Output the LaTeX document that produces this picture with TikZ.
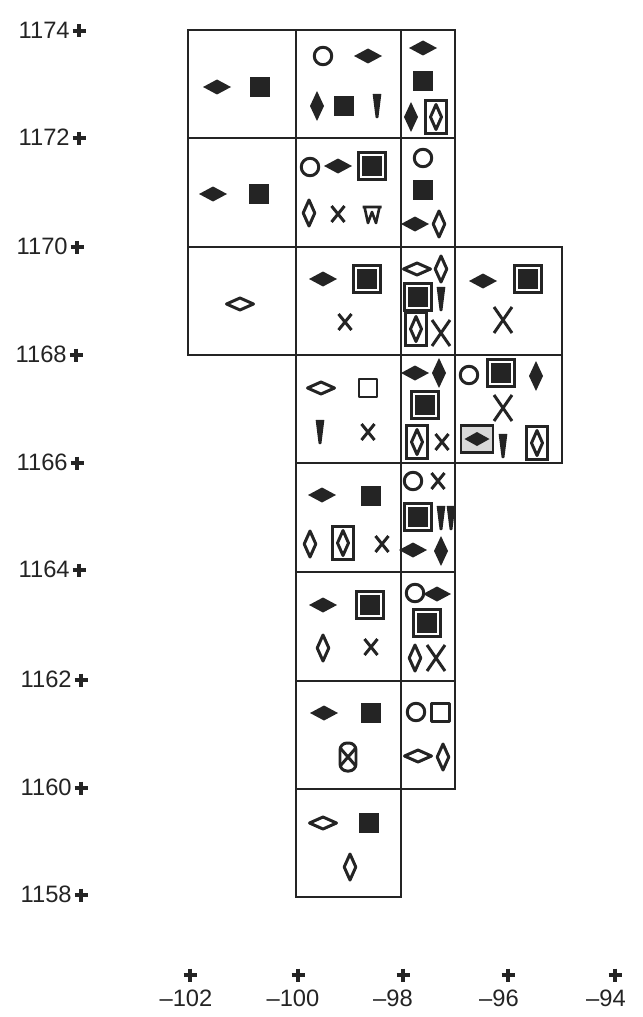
\documentclass[tikz,border=0pt]{standalone}
\usepackage{fontspec}
\setmainfont{Liberation Sans}
\definecolor{ink}{RGB}{36,36,36}
\tikzset{
  cell/.style={draw=ink, line width=1.5pt},
  sym/.style={draw=ink, line width=1.7pt, line join=round},
  tick/.style={draw=ink, line width=2pt},
  lab/.style={inner sep=0pt, text=ink, font=\fontsize{13.5}{16}\selectfont},
  fdh/.pic={\fill[ink] (-14,0) -- (0,-7.5) -- (14,0) -- (0,7.5) -- cycle;},
  odh/.pic={\draw[sym] (-13.5,0) -- (0,-6) -- (13.5,0) -- (0,6) -- cycle;},
  fdv/.pic={\fill[ink] (0,-15) -- (7,0) -- (0,15) -- (-7,0) -- cycle;},
  odv/.pic={\draw[sym] (0,-13) -- (5.8,0) -- (0,13) -- (-5.8,0) -- cycle;},
  fsq/.pic={\fill[ink] (-10,-10) rectangle (10,10);},
  osq/.pic={\draw[sym] (-9,-9) rectangle (9,9);},
  bsq/.pic={\draw[cell] (-13.5,-13.5) rectangle (13.5,13.5);
            \fill[ink] (-10,-10) rectangle (10,10);},
  circ/.pic={\draw[sym] (0,0) circle[radius=8.75];},
  xm/.pic={\draw[sym] (-6.5,-8) -- (6.5,8) (-6.5,8) -- (6.5,-8);},
  bigx/.pic={\draw[sym] (-9,-13) -- (9,13) (-9,13) -- (9,-13);},
  wedge/.pic={\filldraw[ink, line width=0.8pt, line join=round]
            (-3.6,-11.5) -- (3.6,-11.5) -- (0.7,11.5) -- (-0.7,11.5) -- cycle;},
  bodv/.pic={\draw[cell] (-10.5,-16.5) rectangle (10.5,16.5);
            \draw[sym] (0,-12.5) -- (5.5,0) -- (0,12.5) -- (-5.5,0) -- cycle;},
  bfdh/.pic={\draw[cell, fill=black!15] (-16,-13.5) rectangle (16,13.5);
            \fill[ink] (-12.5,0) -- (0,-7) -- (12.5,0) -- (0,7) -- cycle;},
  wsym/.pic={\draw[sym, line width=1.5pt] (-9.5,-8) -- (9.5,-8)
            (-7.5,-8) -- (-4,8) -- (0,-3) -- (4,8) -- (7.5,-8);},
  ovx/.pic={\draw[sym, rounded corners=4pt] (-8,-14) rectangle (8,14);
            \draw[sym] (-7,-8) -- (7,8) (-7,8) -- (7,-8);}
}
\begin{document}
\begin{tikzpicture}[x=0.02cm, y=-0.02cm]
\useasboundingbox (0,0) rectangle (642,1017);
% grid cells
\foreach \xa/\xb/\ya/\yb/\mid in {188/296/30/355/{138,247},
    296/401/30/897/{138,247,355,463,572,681,789},
    401/455/30/789/{138,247,355,463,572,681},
    455/562/247/463/{355}} {
  \draw[cell] (\xa,\ya) rectangle (\xb,\yb);
  \foreach \r in \mid {\draw[cell] (\xa,\r) -- (\xb,\r);}
}
% axes
\foreach \lat/\py/\tx in {1174/31/70, 1172/138/70, 1170/247/68, 1168/355/67,
    1166/463/68, 1164/570/70, 1162/680/72, 1160/788/72, 1158/895/72} {
  \node[lab, anchor=east] (y\lat) at (\tx,\py-1) {\lat};
  \draw[tick] (\tx+2.5,\py) -- (\tx+15.5,\py) (\tx+9,\py-6.5) -- (\tx+9,\py+6.5);
}
\foreach \lon/\px/\lx in {102/190/186, 100/298/293, 98/403/393, 96/508/499, 94/615/606} {
  \draw[tick] (\px-6.5,975) -- (\px+6.5,975) (\px,968.5) -- (\px,981.5);
  \node[lab] (x\lon) at (\lx,998) {--\lon};
}
% symbols
\foreach \x/\y in {217/87, 213/194, 368/56, 338/166, 323/279, 322/495, 323/605,
    324/713, 423/48, 415/224, 415/373, 413/550, 437/594, 483/281}
  \pic at (\x,\y) {fdh};
\foreach \x/\y in {260/87, 259/194, 344/106, 371/496, 371/713, 369/823, 423/81, 423/190}
  \pic at (\x,\y) {fsq};
\foreach \x/\y in {240/304, 321/388, 323/823, 417/269, 418/756}
  \pic at (\x,\y) {odh};
\foreach \x/\y in {317/106, 411/117, 439/373, 441/551, 536/376}
  \pic at (\x,\y) {fdv};
\foreach \x/\y in {309/213, 310/544, 323/648, 350/867, 439/224, 441/269, 415/658, 443/757}
  \pic at (\x,\y) {odv};
\foreach \x/\y in {323/56, 310/167, 423/158, 413/481, 415/593, 416/712, 469/375}
  \pic at (\x,\y) {circ};
\foreach \x/\y in {372/166, 367/279, 370/605, 418/297, 425/405, 418/517, 427/623,
    528/279, 501/373}
  \pic at (\x,\y) {bsq};
\foreach \x/\y in {368/388, 440/712}
  \pic at (\x,\y) {osq};
\foreach \x/\y in {338/214, 345/322, 368/432, 382/544, 371/647, 442/442, 438/481}
  \pic at (\x,\y) {xm};
\foreach \x/\y in {441/333, 436/658, 503/320, 503/408}
  \pic at (\x,\y) {bigx};
\foreach \x/\y in {377/106, 320/432, 441/299, 441/518, 451/518, 503/446}
  \pic at (\x,\y) {wedge};
\foreach \x/\y in {436/117, 343/543, 416/329, 417/442, 537/443}
  \pic at (\x,\y) {bodv};
\pic at (477,439) {bfdh};
\pic at (372,215) {wsym};
\pic at (348,757) {ovx};
\end{tikzpicture}
\end{document}
